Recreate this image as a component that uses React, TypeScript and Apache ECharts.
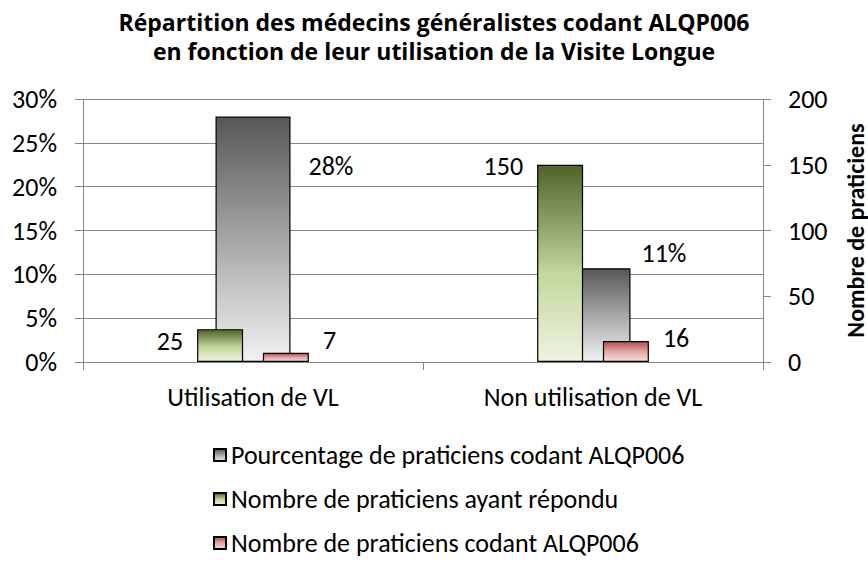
import React, { useEffect, useRef } from "react";
import * as echarts from "echarts";

const categories = ["Utilisation de VL", "Non utilisation de VL"];
const pourcentageCodant = [0.28, 0.107];
const nombreRepondu = [25, 150];
const nombreCodant = [7, 16];

const seriesNames = [
  "Pourcentage de praticiens codant ALQP006",
  "Nombre de praticiens ayant répondu",
  "Nombre de praticiens codant ALQP006",
];

const titleLines = [
  "Répartition des médecins généralistes codant ALQP006",
  "en fonction de leur utilisation de la Visite Longue",
];

const FONT = 'Carlito, Calibri, "Open Sans", sans-serif';
const TITLE_FONT = '"Open Sans", Carlito, sans-serif';

// label offsets (manual placement as in the reference)
const greyOffsets = [[18, -73], [11, -62]];
const greenOffsets = [[-14, -5], [-14, -97]];
const redOffsets = [[14, -17], [14, -13]];

const lin = (stops: [number, string][]) =>
  new echarts.graphic.LinearGradient(
    0,
    0,
    0,
    1,
    stops.map(([offset, color]) => ({ offset, color }))
  );

export default function App() {
  const ref = useRef<HTMLDivElement>(null);
  useEffect(() => {
    if (!ref.current) return;
    const chart = echarts.init(ref.current, null, { renderer: "svg" });
    const FS = 26;
    const labelStyle = { fontFamily: FONT, fontSize: FS, color: "#000" };
    const gridColor = "#868686";
    chart.setOption({
      animation: false,
      backgroundColor: "#fff",
      title: titleLines.map((t, i) => ({
        text: t,
        left: "center",
        top: 8 + i * 29,
        padding: 0,
        textStyle: {
          fontFamily: TITLE_FONT,
          fontWeight: "bold",
          fontSize: 23,
          lineHeight: 28,
          color: "#000",
        },
      })),
      legend: {
        orient: "vertical",
        left: 213,
        top: 442,
        padding: 0,
        itemWidth: 12,
        itemHeight: 12,
        itemGap: 18,
        icon: "rect",
        textStyle: { fontFamily: FONT, fontSize: FS, color: "#000", lineHeight: 26 },
        data: seriesNames,
      },
      grid: { left: 83, right: 105, top: 99, bottom: 203, outerBoundsMode: "none", containLabel: false },
      xAxis: [
        {
          type: "category",
          data: categories,
          axisLine: { lineStyle: { color: gridColor, width: 1 } },
          axisTick: { show: true, length: 8, lineStyle: { color: gridColor } },
          axisLabel: { fontFamily: FONT, fontSize: FS, color: "#000", margin: 22 },
        },
        {
          type: "category",
          data: categories,
          show: false,
        },
      ],
      yAxis: [
        {
          type: "value",
          min: 0,
          max: 0.3,
          interval: 0.05,
          axisLine: { show: true, lineStyle: { color: gridColor } },
          axisTick: { show: true, length: 8, lineStyle: { color: gridColor } },
          splitLine: { show: true, lineStyle: { color: gridColor, width: 1 } },
          axisLabel: {
            fontFamily: FONT,
            fontSize: FS,
            color: "#000",
            margin: 26,
            formatter: (v: number) => Math.round(v * 100) + "%",
          },
        },
        {
          type: "value",
          min: 0,
          max: 200,
          interval: 50,
          position: "right",
          name: "Nombre de praticiens",
          nameLocation: "middle",
          nameRotate: 90,
          nameGap: 80,
          nameTextStyle: { fontFamily: FONT, fontSize: 24, fontWeight: "bold", color: "#000" },
          axisLine: { show: true, lineStyle: { color: gridColor } },
          axisTick: { show: true, length: 8, lineStyle: { color: gridColor } },
          splitLine: { show: false },
          axisLabel: { fontFamily: FONT, fontSize: FS, color: "#000", margin: 25 },
        },
      ],
      series: [
        {
          name: seriesNames[0],
          type: "bar",
          xAxisIndex: 0,
          yAxisIndex: 0,
          barWidth: 75,
          itemStyle: {
            color: lin([[0, "#575757"], [0.5, "#a6a6a6"], [1, "#f2f2f2"]]),
            borderColor: "#000",
            borderWidth: 1.2,
          },
          label: {
            show: true,
            position: "right",
            distance: 0,
            ...labelStyle,
            formatter: (p: any) => Math.round(p.value * 100) + "%",
          },
          data: pourcentageCodant.map((v, i) => ({ value: v, label: { offset: greyOffsets[i] } })),
        },
        {
          name: seriesNames[1],
          type: "bar",
          xAxisIndex: 1,
          yAxisIndex: 1,
          barWidth: 46,
          barGap: "43%",
          itemStyle: {
            color: lin([[0, "#4f6228"], [0.55, "#c3d69b"], [1, "#eef3e2"]]),
            borderColor: "#000",
            borderWidth: 1.2,
          },
          label: { show: true, position: "left", distance: 0, ...labelStyle },
          data: nombreRepondu.map((v, i) => ({ value: v, label: { offset: greenOffsets[i] } })),
        },
        {
          name: seriesNames[2],
          type: "bar",
          xAxisIndex: 1,
          yAxisIndex: 1,
          barWidth: 46,
          barGap: "43%",
          itemStyle: {
            color: lin([[0, "#b04f4c"], [0.5, "#e3a5a3"], [1, "#f6dede"]]),
            borderColor: "#000",
            borderWidth: 1.2,
          },
          label: { show: true, position: "right", distance: 0, ...labelStyle },
          data: nombreCodant.map((v, i) => ({ value: v, label: { offset: redOffsets[i] } })),
        },
      ],
    });
    return () => chart.dispose();
  }, []);
  return <div ref={ref} style={{ width: 868, height: 565, position: "absolute", left: 0, top: 0 }} />;
}
